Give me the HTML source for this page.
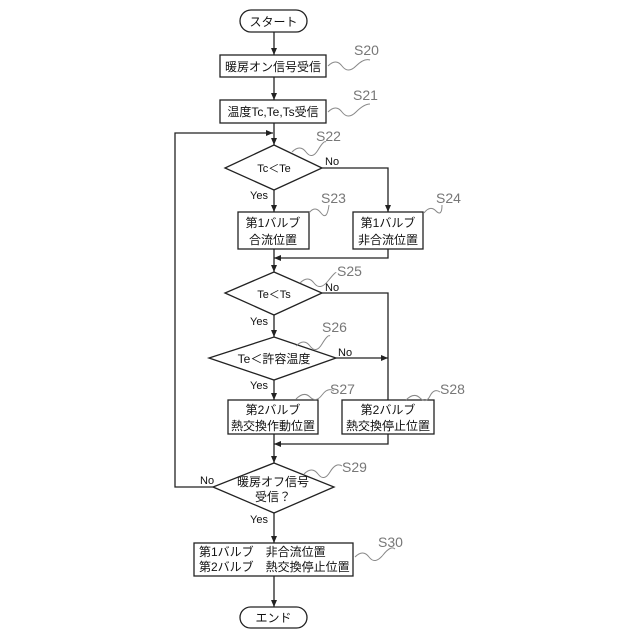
<!DOCTYPE html>
<html><head><meta charset="utf-8"><style>
body{margin:0;background:#fff}
svg{display:block}
text{font-family:"Liberation Sans","Noto Sans CJK JP",sans-serif;fill:#111}
.t{font-size:12px;text-anchor:middle}
.s{font-size:14px;fill:#777}
.y{font-size:11px}
</style></head><body>
<svg width="640" height="640" viewBox="0 0 640 640" xmlns="http://www.w3.org/2000/svg">
<defs><marker id="a" markerWidth="8" markerHeight="8" refX="7" refY="4" orient="auto" markerUnits="userSpaceOnUse"><path d="M0,1 L7,4 L0,7 z" fill="#222"/></marker></defs>
<g stroke="#222" stroke-width="1.3" fill="#fff">
<rect x="240" y="10" width="67" height="22" rx="11"/>
<rect x="220" y="55" width="106" height="22"/>
<rect x="220" y="100" width="106" height="23"/>
<polygon points="274,145 322,168 274,190 225,168"/>
<rect x="238" y="212" width="71" height="37"/>
<rect x="353" y="212" width="70" height="37"/>
<polygon points="274,272 322,293 274,315 225,293"/>
<polygon points="274,337 336,358 274,380 209,358"/>
<rect x="228" y="400" width="90" height="34"/>
<rect x="342" y="400" width="92" height="34"/>
<polygon points="274,463 334,487 274,513 213,487"/>
<rect x="194" y="543" width="159" height="33"/>
<rect x="240" y="607" width="67" height="21" rx="10.5"/>
</g>
<g stroke="#222" stroke-width="1.3" fill="none" marker-end="url(#a)">
<line x1="274" y1="32" x2="274" y2="55"/>
<line x1="274" y1="77" x2="274" y2="100"/>
<line x1="274" y1="123" x2="274" y2="145"/>
<polyline points="213,487 175,487 175,133 273,133"/>
<line x1="274" y1="190" x2="274" y2="212"/>
<polyline points="322,168 388,168 388,212"/>
<polyline points="388,249 388,258 274,258"/>
<polyline points="274,249 274,272"/>
<line x1="274" y1="315" x2="274" y2="337"/>
<line x1="336" y1="358" x2="388" y2="358"/>
<line x1="274" y1="380" x2="274" y2="400"/>
<polyline points="388,434 388,444 274,444"/>
<line x1="274" y1="434" x2="274" y2="463"/>
<line x1="274" y1="513" x2="274" y2="543"/>
<line x1="274" y1="576" x2="274" y2="607"/>
</g>
<g stroke="#222" stroke-width="1.3" fill="none">
<polyline points="322,293 388,293 388,400"/>
</g>
<g stroke="#888" stroke-width="1" fill="none">
<path d="M328,66 q8,-8 14,0 t14,0 t14,-6"/>
<path d="M328,112 q8,-8 14,0 t14,0 t14,-8"/>
<path d="M292,152 q8,-8 14,0 t12,-2 t8,-8"/>
<path d="M309,213 q6,-8 12,0 t8,-8"/>
<path d="M424,213 q6,-8 12,-2 t6,-6"/>
<path d="M300,283 q8,-8 14,0 t14,-2 t8,-8"/>
<path d="M296,346 q8,-8 14,0 t12,-2 t8,-8"/>
<path d="M296,399 q8,-8 14,-2 t12,-2 t12,-4"/>
<path d="M406,400 q8,-8 14,-2 t10,-2 t10,-4"/>
<path d="M304,474 q8,-8 14,0 t12,-2 t12,-6"/>
<path d="M355,557 q8,-8 14,0 t14,-2 t12,-6"/>
</g>
<text class="t" x="273.5" y="26">スタート</text>
<text class="t" x="273" y="71">暖房オン信号受信</text>
<text class="t" x="273" y="116">温度Tc,Te,Ts受信</text>
<text class="t" x="274" y="172" style="font-size:11px">Tc＜Te</text>
<text class="t" x="273" y="227">第1バルブ</text><text class="t" x="273" y="244">合流位置</text>
<text class="t" x="388" y="227">第1バルブ</text><text class="t" x="388" y="244">非合流位置</text>
<text class="t" x="274" y="298" style="font-size:11px">Te＜Ts</text>
<text class="t" x="274" y="363">Te＜許容温度</text>
<text class="t" x="273" y="414">第2バルブ</text><text class="t" x="273" y="430">熱交換作動位置</text>
<text class="t" x="388" y="414">第2バルブ</text><text class="t" x="388" y="430">熱交換停止位置</text>
<text class="t" x="273" y="486">暖房オフ信号</text><text class="t" x="273" y="501">受信？</text>
<text x="199" y="556" style="font-size:12px">第1バルブ　非合流位置</text>
<text x="199" y="571" style="font-size:12px">第2バルブ　熱交換停止位置</text>
<text class="t" x="273.5" y="622">エンド</text>
<text class="y" x="250" y="199">Yes</text>
<text class="y" x="325" y="165">No</text>
<text class="y" x="250" y="325">Yes</text>
<text class="y" x="325" y="291">No</text>
<text class="y" x="338" y="356">No</text>
<text class="y" x="250" y="389">Yes</text>
<text class="y" x="200" y="484">No</text>
<text class="y" x="250" y="523">Yes</text>
<text class="s" x="354" y="55">S20</text>
<text class="s" x="353" y="100">S21</text>
<text class="s" x="316" y="141">S22</text>
<text class="s" x="321" y="203">S23</text>
<text class="s" x="436" y="203">S24</text>
<text class="s" x="337" y="276">S25</text>
<text class="s" x="322" y="332">S26</text>
<text class="s" x="330" y="394">S27</text>
<text class="s" x="440" y="394">S28</text>
<text class="s" x="342" y="472">S29</text>
<text class="s" x="378" y="547">S30</text>
</svg>
</body></html>
